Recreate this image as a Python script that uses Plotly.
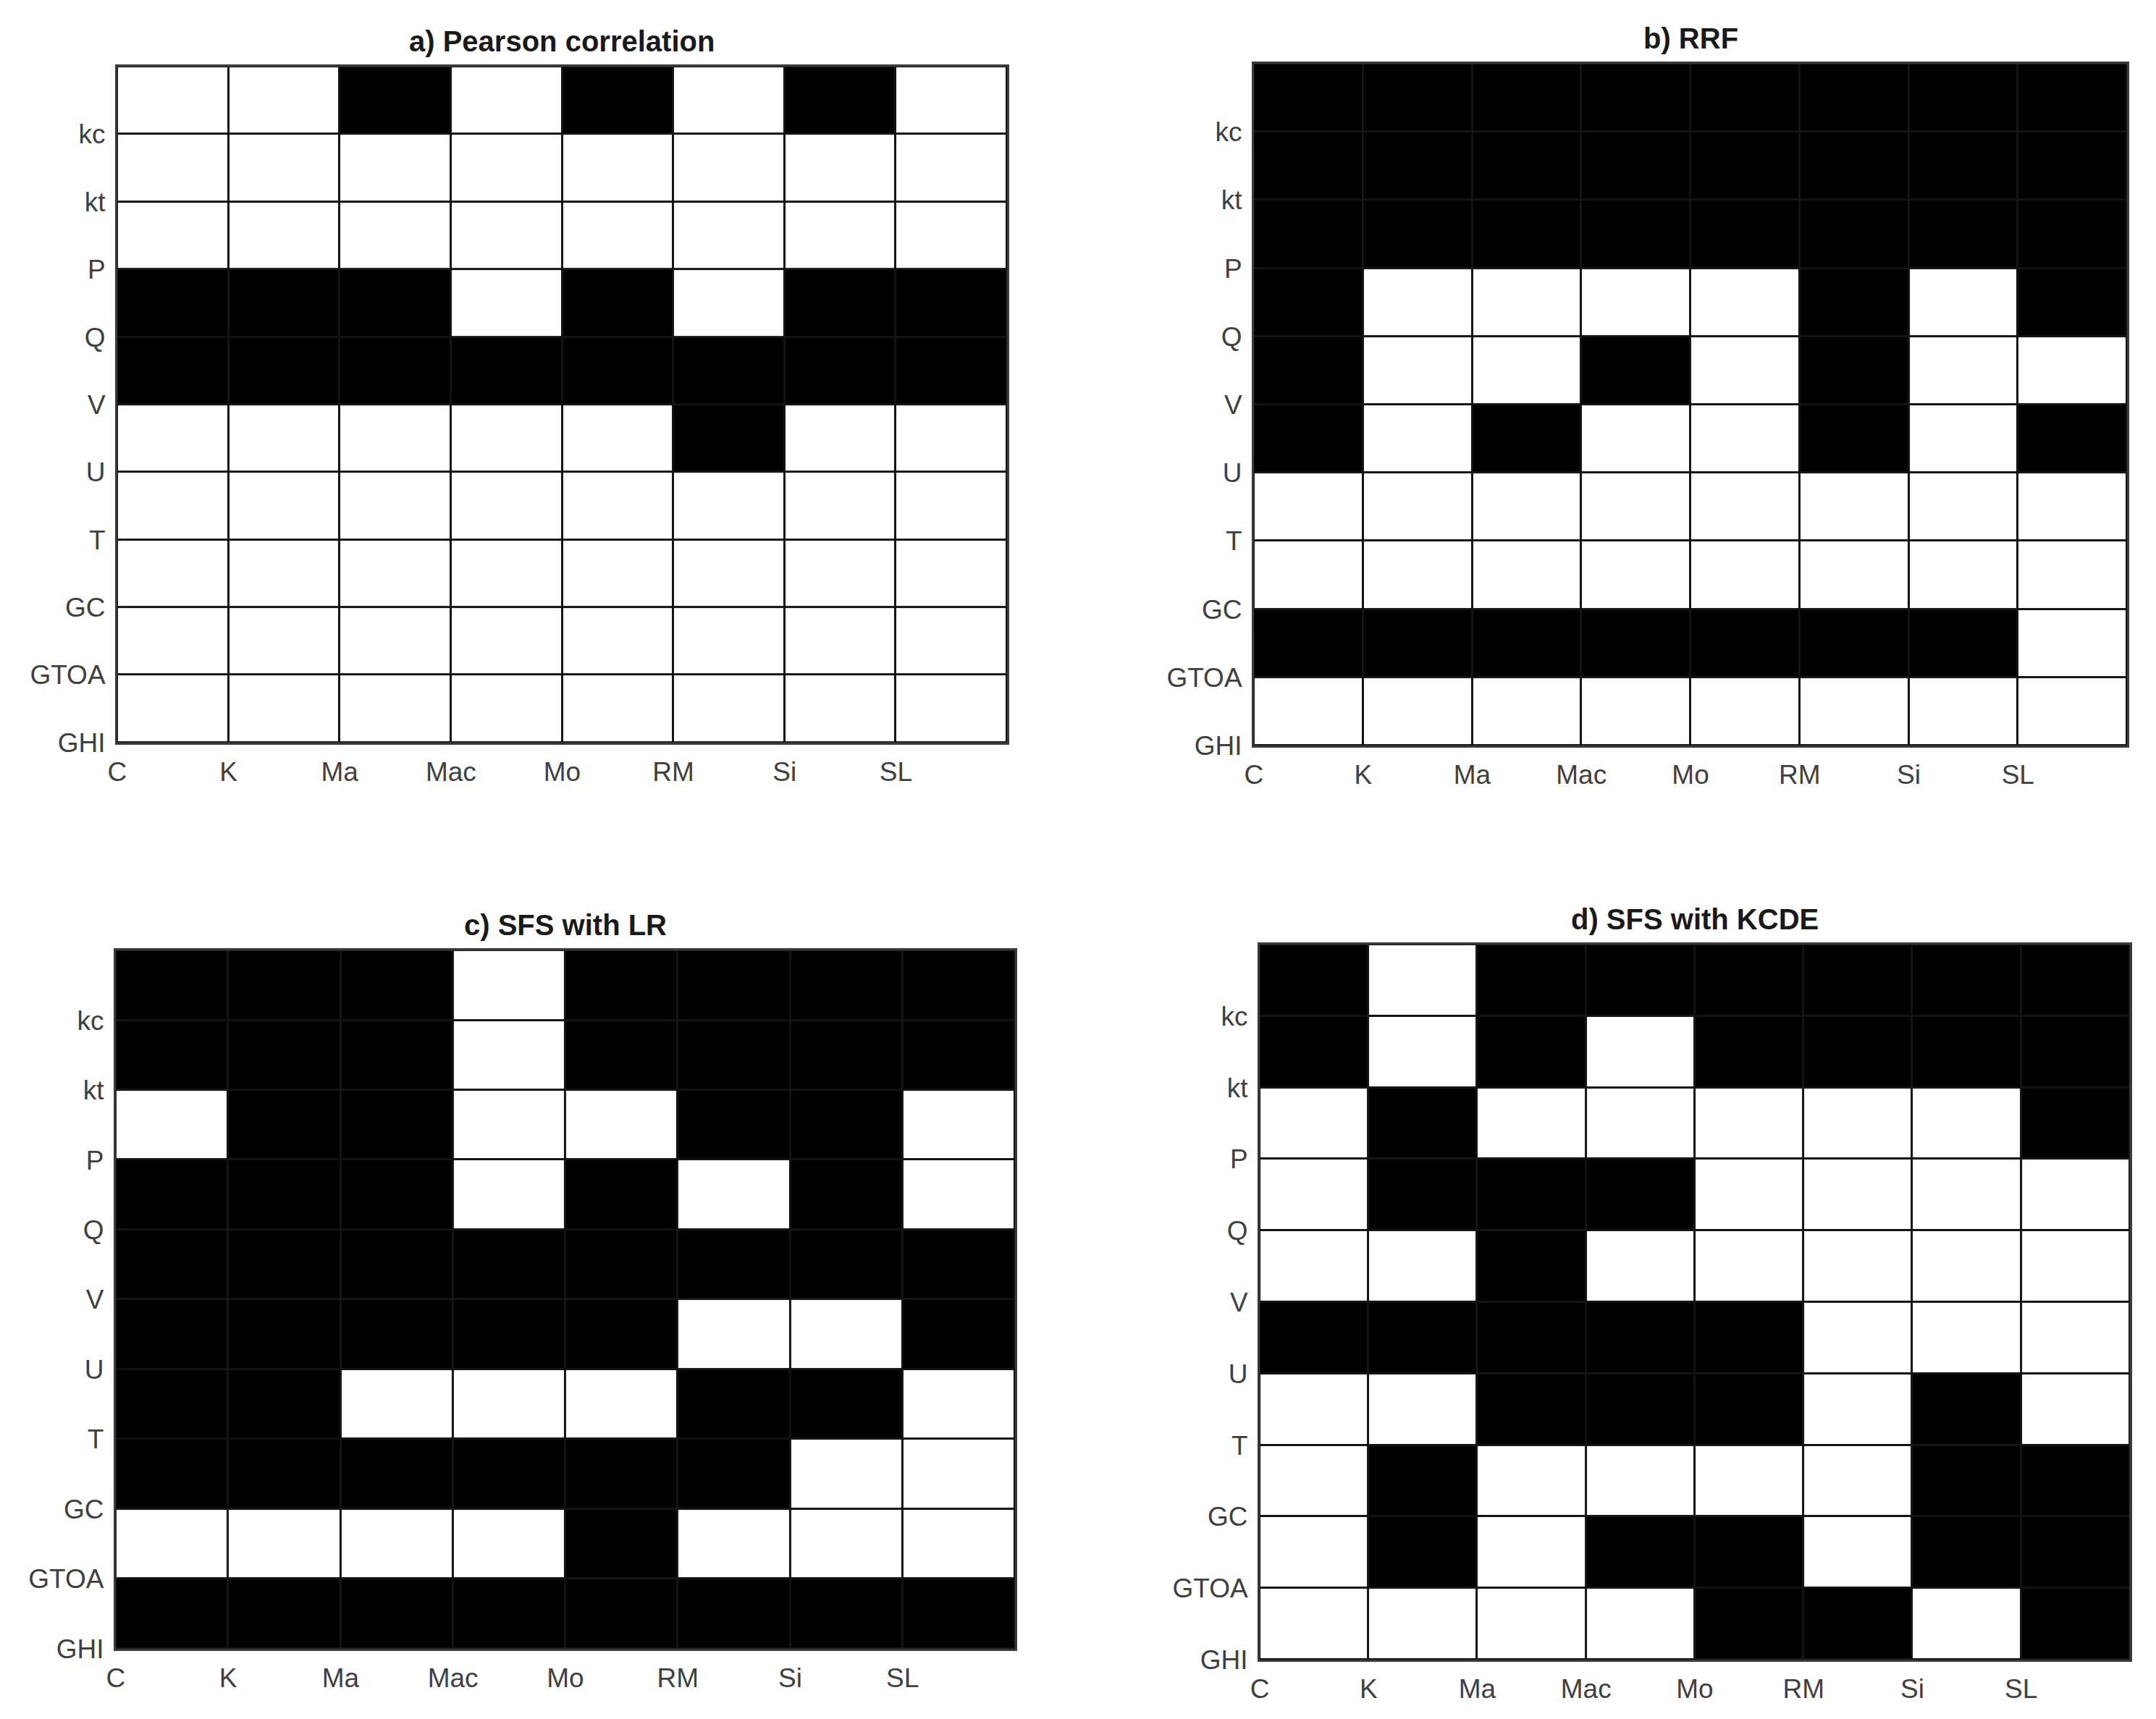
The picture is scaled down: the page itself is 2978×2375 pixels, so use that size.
import plotly.graph_objects as go

# columns (x, left edge of each cell) and rows (y, bottom edge of each cell)
x_labels = ["C", "K", "Ma", "Mac", "Mo", "RM", "Si", "SL"]
y_labels = ["GHI", "GTOA", "GC", "T", "U", "V", "Q", "P", "kt", "kc"]

# 1 = selected (black), 0 = not selected (white); rows listed top -> bottom
pearson = [
    [0, 0, 1, 0, 1, 0, 1, 0],
    [0, 0, 0, 0, 0, 0, 0, 0],
    [0, 0, 0, 0, 0, 0, 0, 0],
    [1, 1, 1, 0, 1, 0, 1, 1],
    [1, 1, 1, 1, 1, 1, 1, 1],
    [0, 0, 0, 0, 0, 1, 0, 0],
    [0, 0, 0, 0, 0, 0, 0, 0],
    [0, 0, 0, 0, 0, 0, 0, 0],
    [0, 0, 0, 0, 0, 0, 0, 0],
    [0, 0, 0, 0, 0, 0, 0, 0],
]
rrf = [
    [1, 1, 1, 1, 1, 1, 1, 1],
    [1, 1, 1, 1, 1, 1, 1, 1],
    [1, 1, 1, 1, 1, 1, 1, 1],
    [1, 0, 0, 0, 0, 1, 0, 1],
    [1, 0, 0, 1, 0, 1, 0, 0],
    [1, 0, 1, 0, 0, 1, 0, 1],
    [0, 0, 0, 0, 0, 0, 0, 0],
    [0, 0, 0, 0, 0, 0, 0, 0],
    [1, 1, 1, 1, 1, 1, 1, 0],
    [0, 0, 0, 0, 0, 0, 0, 0],
]
sfs_lr = [
    [1, 1, 1, 0, 1, 1, 1, 1],
    [1, 1, 1, 0, 1, 1, 1, 1],
    [0, 1, 1, 0, 0, 1, 1, 0],
    [1, 1, 1, 0, 1, 0, 1, 0],
    [1, 1, 1, 1, 1, 1, 1, 1],
    [1, 1, 1, 1, 1, 0, 0, 1],
    [1, 1, 0, 0, 0, 1, 1, 0],
    [1, 1, 1, 1, 1, 1, 0, 0],
    [0, 0, 0, 0, 1, 0, 0, 0],
    [1, 1, 1, 1, 1, 1, 1, 1],
]
sfs_kcde = [
    [1, 0, 1, 1, 1, 1, 1, 1],
    [1, 0, 1, 0, 1, 1, 1, 1],
    [0, 1, 0, 0, 0, 0, 0, 1],
    [0, 1, 1, 1, 0, 0, 0, 0],
    [0, 0, 1, 0, 0, 0, 0, 0],
    [1, 1, 1, 1, 1, 0, 0, 0],
    [0, 0, 1, 1, 1, 0, 1, 0],
    [0, 1, 0, 0, 0, 0, 1, 1],
    [0, 1, 0, 1, 1, 0, 1, 1],
    [0, 0, 0, 0, 1, 1, 0, 1],
]

panels = [
    ("a) Pearson correlation", pearson, [0.0517, 0.4644], [0.5714, 0.9646]),
    ("b) RRF", rrf, [0.5789, 0.9839], [0.5697, 0.9663]),
    ("c) SFS with LR", sfs_lr, [0.0510, 0.4681], [0.0442, 0.4505]),
    ("d) SFS with KCDE", sfs_kcde, [0.5816, 0.9852], [0.0379, 0.4539]),
]

FONT = "Liberation Sans, Arial, sans-serif"

fig = go.Figure()
annotations = []
for i, (title, grid, xdom, ydom) in enumerate(panels):
    n = "" if i == 0 else str(i + 1)
    z = grid[::-1]  # bottom row first
    fig.add_trace(
        go.Heatmap(
            z=z,
            x=[c + 0.5 for c in range(len(x_labels))],
            y=[r + 0.5 for r in range(len(y_labels))],
            colorscale=[[0, "white"], [1, "black"]],
            zmin=0,
            zmax=1,
            showscale=False,
            xgap=3,
            ygap=3,
            xaxis="x" + n,
            yaxis="y" + n,
            hoverinfo="skip",
        )
    )
    axis_common = dict(
        showgrid=False,
        zeroline=False,
        showline=True,
        mirror=True,
        linecolor="#3a3a3a",
        linewidth=3,
        ticks="",
        automargin=False,
        tickfont=dict(family=FONT, size=37, color="#404040"),
        fixedrange=True,
    )
    fig.update_layout(
        {
            "xaxis" + n: dict(
                axis_common,
                domain=xdom,
                range=[0, len(x_labels)],
                tickmode="array",
                tickvals=list(range(len(x_labels))),
                ticktext=x_labels,
                anchor="y" + n,
                ticklabelstandoff=6,
            ),
            "yaxis" + n: dict(
                axis_common,
                domain=ydom,
                range=[0, len(y_labels)],
                tickmode="array",
                tickvals=list(range(len(y_labels))),
                ticktext=y_labels,
                anchor="x" + n,
                ticklabelstandoff=6,
            ),
        }
    )
    annotations.append(
        dict(
            text="<b>" + title + "</b>",
            x=(xdom[0] + xdom[1]) / 2,
            y=ydom[1],
            xref="paper",
            yref="paper",
            xanchor="center",
            yanchor="bottom",
            yshift=11,
            showarrow=False,
            font=dict(family=FONT, size=40, color="#1a1a1a"),
        )
    )

fig.update_layout(
    width=2978,
    height=2375,
    margin=dict(l=0, r=0, t=0, b=0),
    paper_bgcolor="white",
    plot_bgcolor="#141414",
    annotations=annotations,
    showlegend=False,
)

fig.write_html("out.html")
